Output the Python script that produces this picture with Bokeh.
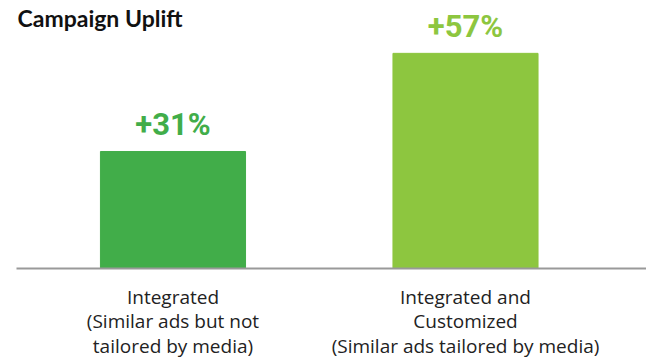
from bokeh.plotting import figure
from bokeh.models import Range1d, FixedTicker, ColumnDataSource
from bokeh.core.properties import value
from bokeh.transform import dodge
from bokeh.embed import file_html
from bokeh.resources import INLINE

title = "Campaign Uplift"
categories = ["Integrated\n(Similar ads but not\ntailored by media)",
              "Integrated and\nCustomized\n(Similar ads tailored by media)"]
positions = [1, 2]
uplift = [31, 57]
labels = ["+31%", "+57%"]
colors = ["#41AD49", "#8DC63F"]

src = ColumnDataSource(dict(x=positions, top=uplift, lab=labels, color=colors))

X0, X1 = 0.4650, 2.6188
Y1 = 71.0
p = figure(width=646, height=363, output_backend="svg", toolbar_location=None,
           x_range=Range1d(X0, X1), y_range=Range1d(0, Y1),
           min_border_left=16, min_border_right=0, min_border_top=0, min_border_bottom=95)
p.outline_line_color = None
p.xgrid.visible = False
p.ygrid.visible = False
p.yaxis.visible = False
p.background_fill_color = "white"
p.border_fill_color = "white"

p.vbar(x="x", top="top", width=0.496, bottom=0, color="color", source=src)
p.text(x="x", y=dodge("top", 7.1), text="lab", source=src, text_color="color",
       text_font=value("Roboto"), text_font_size="31px",
       text_font_style="bold", text_align="center", text_baseline="alphabetic")

p.text(x=[X0 + 1 / 292.5], y=[Y1 - 18 / 3.78], text=[title], text_font=value("Lato"),
       text_font_size="23px", text_font_style="bold", text_color="#111111",
       text_align="left", text_baseline="alphabetic")

ax = p.xaxis[0]
ax.ticker = FixedTicker(ticks=positions)
ax.major_label_overrides = {pos: cat for pos, cat in zip(positions, categories)}
ax.axis_line_color = "#999999"
ax.axis_line_width = 2
ax.major_tick_line_color = None
ax.minor_tick_line_color = None
ax.major_tick_out = 0
ax.major_tick_in = 0
ax.major_label_text_font = "Open Sans"
ax.major_label_text_font_size = "19px"
ax.major_label_text_color = "#222222"
ax.major_label_text_line_height = 0.96
ax.major_label_standoff = 15

open("out.html", "w").write(file_html(p, INLINE))
